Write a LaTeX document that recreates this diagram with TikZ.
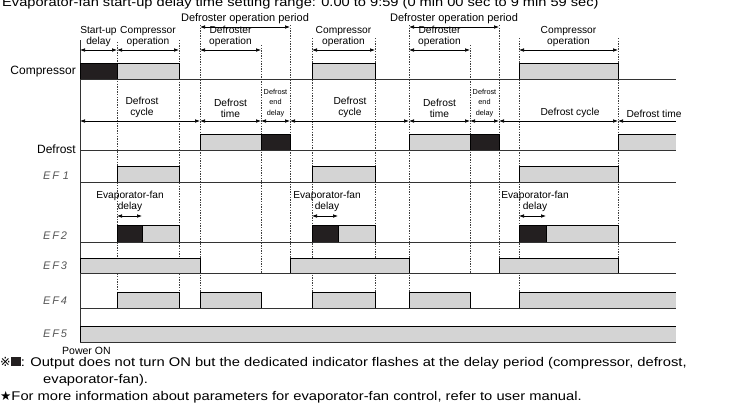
\documentclass[tikz,border=0pt]{standalone}
\usepackage{fontspec}
\setmainfont{Liberation Sans}
\newfontfamily\widefont[FakeStretch=1.17]{Liberation Sans}
\newfontfamily\symfont{DejaVu Sans}
\usetikzlibrary{arrows.meta}
\definecolor{ongray}{HTML}{D4D4D4}
\definecolor{flashblack}{HTML}{231F20}
\definecolor{efgray}{HTML}{555555}
\tikzset{
  onblock/.style={fill=ongray,draw=black,line width=0.8pt},
  flashblock/.style={fill=flashblack,draw=black,line width=0.8pt},
  rowline/.style={draw=black!80,line width=0.7pt},
  guide/.style={draw=black!75,line width=0.5pt,dash pattern=on 1.4pt off 1.2pt},
  span/.style={{Latex[length=5pt,width=3.6pt]}-{Latex[length=5pt,width=3.6pt]},line width=0.6pt},
  lspan/.style={{Latex[length=5pt,width=3.6pt]}-,line width=0.6pt},
  lbl/.style={font=\fontsize{10.2}{11}\selectfont,align=center,inner sep=0pt},
  tinylbl/.style={font=\fontsize{7.3}{10.3}\selectfont,align=center,inner sep=0pt},
  rowlbl/.style={font=\fontsize{12}{12}\selectfont,anchor=east,inner sep=0pt},
  eflbl/.style={font=\fontsize{11}{11}\selectfont\itshape,text=efgray,anchor=west,inner sep=0pt},
  note/.style={font=\widefont\fontsize{12.6}{14}\selectfont,anchor=base west,inner sep=0pt}
}
\begin{document}
\begin{tikzpicture}[x=1pt,y=-1pt]
  \useasboundingbox (0,0) rectangle (732,405);
  \node[font=\widefont\fontsize{12.5}{13}\selectfont,anchor=base west,inner sep=0pt] (title) at (2,6.5)
    {Evaporator-fan start-up delay time setting range: 0.00 to 9:59 (0 min 00 sec to 9 min 59 sec)};
  % guide lines (drawn first, blocks cover them)
  \foreach \x/\top/\bot in {117/42/292, 179/40/292, 200/25/292, 261/45/273, 290/25/258,
      312/38/292, 375/38/292, 409/25/292, 470/45/273, 499/25/258, 519/38/292, 618/38/258}
    \draw[guide] (\x,\top) -- (\x,\bot);
  \draw[rowline] (80,40) -- (80,342);
  % Compressor
  \draw[flashblock] (80,63) rectangle (117,79);
  \foreach \a/\b in {117/179, 312/375, 519/618}
    \draw[onblock] (\a,63) rectangle (\b,79);
  % Defrost
  \foreach \a/\b in {200/261, 409/470}
    \draw[onblock] (\a,134) rectangle (\b,150);
  \foreach \a/\b in {261/290, 470/499}
    \draw[flashblock] (\a,134) rectangle (\b,150);
  \fill[ongray] (618,134) rectangle (676,150);
  \draw[onblock,fill=none] (618,150) |- (676,134);
  % EF1
  \foreach \a/\b in {117/179, 312/375, 519/618}
    \draw[onblock] (\a,166) rectangle (\b,182);
  % EF2
  \foreach \a/\m/\b in {117/142/179, 312/338/375, 519/546/618} {
    \draw[onblock] (\m,225) rectangle (\b,242);
    \draw[flashblock] (\a,225) rectangle (\m,242);
  }
  % EF3
  \foreach \a/\b in {80/200, 290/409, 499/618}
    \draw[onblock] (\a,258) rectangle (\b,273);
  % EF4
  \foreach \a/\b in {117/179, 200/261, 312/375, 409/470}
    \draw[onblock] (\a,292) rectangle (\b,308);
  \fill[ongray] (519,292) rectangle (676,308);
  \draw[onblock,fill=none] (519,308) |- (676,292);
  % EF5
  \fill[ongray] (80,326) rectangle (676,342);
  \draw[onblock,fill=none] (80,342) |- (676,326);
  % base lines
  \foreach \y in {79, 150, 182, 242, 273, 308, 342}
    \draw[rowline] (80,\y) -- (676,\y);
  % row labels
  \node[rowlbl] (comp) at (76,72) {Compressor};
  \node[rowlbl] (defr) at (76,149) {Defrost};
  \node[eflbl] (ef1) at (43,175.5) {E\,F\,\,1};
  \node[eflbl] (ef2) at (43,236) {E\,F\,2};
  \node[eflbl] (ef3) at (43,266) {E\,F\,3};
  \node[eflbl] (ef4) at (43,301) {E\,F\,4};
  \node[eflbl] (ef5) at (43,334) {E\,F\,5};
  % operation spans
  \foreach \a/\b/\txt in {80/117/{Start-up\\delay}, 117/179/{Compressor\\operation},
      200/261/{Defroster\\operation}, 312/375/{Compressor\\operation},
      409/470/{Defroster\\operation}, 519/618/{Compressor\\operation}} {
    \draw[span] (\a,50) -- (\b,50);
    \node[lbl,anchor=south] at ({(\a+\b)/2},47) {\txt};
  }
  \foreach \a/\b in {200/290, 409/499} {
    \draw[span] (\a,27) -- (\b,27);
    \node[lbl,font=\fontsize{11}{12}\selectfont,anchor=south] at ({(\a+\b)/2},23.5) {Defroster operation period};
  }
  % defrost spans
  \foreach \a/\b in {80/200, 200/261, 261/290, 290/409, 409/470, 470/499, 499/618}
    \draw[span] (\a,121) -- (\b,121);
  \draw[lspan] (618,121) -- (676,121);
  \node[lbl,anchor=south] (dc1) at (142,118) {Defrost\\cycle};
  \node[lbl,anchor=south] (dt1) at (230.5,118) {Defrost\\time};
  \node[tinylbl,anchor=south] (dd1) at (275.5,117) {Defrost\\end\\delay};
  \node[lbl,anchor=south] (dc2) at (350,118) {Defrost\\cycle};
  \node[lbl,anchor=south] (dt2) at (439.5,118) {Defrost\\time};
  \node[tinylbl,anchor=south] (dd2) at (484.5,117) {Defrost\\end\\delay};
  \node[lbl,anchor=south] (dc3) at (570,118) {Defrost cycle};
  \node[lbl,anchor=south] (dt3) at (654,118) {Defrost time};
  % evaporator-fan delay spans
  \foreach \a/\b/\c in {117/142/130, 312/338/327, 519/546/535} {
    \draw[span] (\a,216) -- (\b,216);
    \node[lbl,anchor=south] at (\c,212) {Evaporator-fan\\delay};
  }
  \node[font=\fontsize{10.5}{11}\selectfont,anchor=base west,inner sep=0pt] (pwr) at (62,354) {Power ON};
  % notes
  \node[note] (n1) at (0,366) {{\symfont ※}\textcolor{flashblack}{\rule{10pt}{9pt}}: Output does not turn ON but the dedicated indicator flashes at the delay period (compressor, defrost,};
  \node[note] (n2) at (43,383) {evaporator-fan).};
  \node[note] (n3) at (0,400) {{\symfont ★}For more information about parameters for evaporator-fan control, refer to user manual.};
\end{tikzpicture}
\end{document}
